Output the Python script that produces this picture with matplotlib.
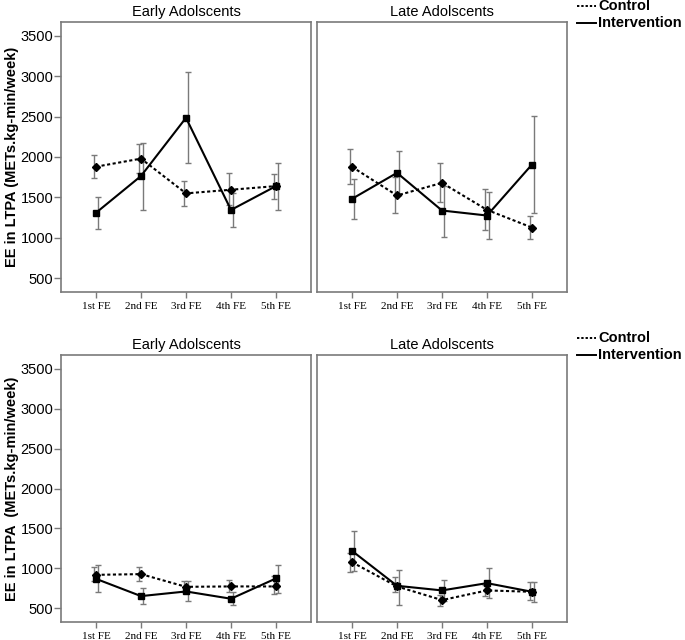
import numpy as np
import matplotlib
matplotlib.use("Agg")
import matplotlib.pyplot as plt
from matplotlib.lines import Line2D

fe_labels = ['1st FE', '2nd FE', '3rd FE', '4th FE', '5th FE']
groups = ['Early Adolscents', 'Late Adolscents']
ylabels = ['EE in LTPA (METs.kg-min/week)', 'EE in LTPA  (METs.kg-min/week)']
yticks = [500, 1000, 1500, 2000, 2500, 3000, 3500]

# top row - early adolescents
top_early_ctrl = [1880, 1980, 1550, 1595, 1640]
top_early_ctrl_lo = [1740, 1805, 1395, 1410, 1480]
top_early_ctrl_hi = [2030, 2155, 1700, 1805, 1795]
top_early_int = [1310, 1765, 2485, 1345, 1640]
top_early_int_lo = [1110, 1350, 1925, 1135, 1350]
top_early_int_hi = [1510, 2170, 3055, 1555, 1925]

# top row - late adolescents
top_late_ctrl = [1878, 1524, 1680, 1346, 1127]
top_late_ctrl_lo = [1664, 1305, 1441, 1098, 987]
top_late_ctrl_hi = [2097, 1750, 1920, 1602, 1276]
top_late_int = [1482, 1804, 1338, 1276, 1907]
top_late_int_lo = [1230, 1530, 1016, 987, 1305]
top_late_int_hi = [1726, 2080, 1643, 1565, 2506]

# bottom row - early adolescents
bot_early_ctrl = [920, 929, 770, 775, 775]
bot_early_ctrl_lo = [837, 841, 704, 700, 683]
bot_early_ctrl_hi = [1012, 1024, 837, 850, 900]
bot_early_int = [870, 654, 712, 621, 875]
bot_early_int_lo = [704, 554, 587, 537, 691]
bot_early_int_hi = [1037, 754, 837, 700, 1049]

# bottom row - late adolescents
bot_late_ctrl = [1078, 775, 604, 725, 708]
bot_late_ctrl_lo = [954, 700, 533, 650, 608]
bot_late_ctrl_hi = [1199, 891, 671, 787, 825]
bot_late_int = [1220, 783, 725, 816, 708]
bot_late_int_lo = [962, 546, 596, 629, 575]
bot_late_int_hi = [1474, 979, 854, 1004, 825]

panels = [
    [(top_early_ctrl, top_early_ctrl_lo, top_early_ctrl_hi, top_early_int, top_early_int_lo, top_early_int_hi),
     (top_late_ctrl, top_late_ctrl_lo, top_late_ctrl_hi, top_late_int, top_late_int_lo, top_late_int_hi)],
    [(bot_early_ctrl, bot_early_ctrl_lo, bot_early_ctrl_hi, bot_early_int, bot_early_int_lo, bot_early_int_hi),
     (bot_late_ctrl, bot_late_ctrl_lo, bot_late_ctrl_hi, bot_late_int, bot_late_int_lo, bot_late_int_hi)],
]

sans = 'Liberation Sans'
serif = 'Liberation Serif'
grey = '#7a7a7a'

fig = plt.figure(figsize=(6.85, 6.4), dpi=100)

W = 250 / 685
lefts = [61 / 685, 317 / 685]
rows = [(1 - 292 / 640, 270 / 640), (1 - 622 / 640, 267 / 640)]
x = np.arange(1, 6)

for r, (bottom, height) in enumerate(rows):
    for c in range(2):
        ax = fig.add_axes([lefts[c], bottom, W, height])
        cm, clo, chi, im, ilo, ihi = [np.array(v) for v in panels[r][c]]

        ax.errorbar(x - 0.05, cm, yerr=[cm - clo, chi - cm], fmt='none',
                    ecolor=grey, elinewidth=1.0, capsize=2.5, capthick=1.0, zorder=2)
        ax.errorbar(x + 0.05, im, yerr=[im - ilo, ihi - im], fmt='none',
                    ecolor=grey, elinewidth=1.0, capsize=2.5, capthick=1.0, zorder=2)
        ax.plot(x, cm, color='black', linestyle=(0, (1.5, 1.2)), lw=1.5,
                marker='D', markersize=4, zorder=3)
        ax.plot(x, im, color='black', linestyle='-', lw=1.5,
                marker='s', markersize=4, zorder=3)

        ax.set_xlim(0.222, 5.778)
        ax.set_ylim(330, 3670)
        ax.set_xticks(x, fe_labels, fontfamily=serif, fontsize=8)
        ax.set_yticks(yticks, [str(v) for v in yticks], fontfamily=sans, fontsize=10.5)
        for s in ax.spines.values():
            s.set_color(grey)
            s.set_linewidth(1.2)
        ax.tick_params(axis='x', color=grey, length=4, width=1, pad=3)
        ax.tick_params(axis='y', color=grey, length=5, width=1, pad=0.5)
        if c == 0:
            ax.set_ylabel(ylabels[r], fontfamily=sans, fontsize=10.5,
                          fontweight='bold', labelpad=1)
        else:
            ax.tick_params(axis='y', left=False, labelleft=False)
        ax.set_title(groups[c], fontfamily=sans, fontsize=10.5, pad=4)

    # legend to the right of each row
    top_px = 6 if r == 0 else 338
    for k, (lab, ls) in enumerate([('Control', (0, (1.2, 1.0))), ('Intervention', '-')]):
        yy = 1 - (top_px + 17 * k) / 640
        fig.add_artist(Line2D([577 / 685, 596 / 685], [yy, yy], color='black',
                              lw=1.4, linestyle=ls))
        fig.text(598 / 685, yy, lab, fontfamily=sans, fontsize=10.5,
                 fontweight='bold', va='center', ha='left')

fig.savefig('out.png', dpi=100)
